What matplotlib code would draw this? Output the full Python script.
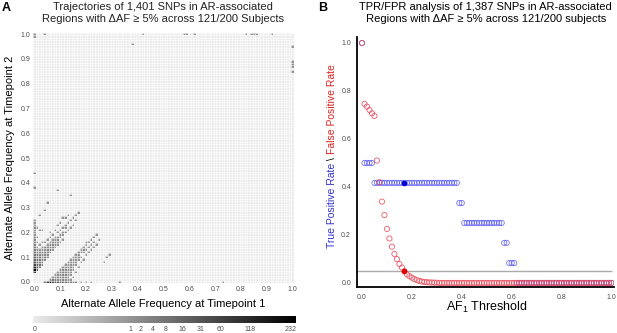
import numpy as np
import matplotlib
matplotlib.use("Agg")
import matplotlib.pyplot as plt
from matplotlib.colors import LinearSegmentedColormap

plt.rcParams['font.family'] = ['Liberation Sans', 'DejaVu Sans']
plt.rcParams['mathtext.default'] = 'regular'

# ---- panel A: SNP counts per cell, AF in hundredths (x = timepoint 1, y = timepoint 2)
col_ids = [0, 1, 2, 3, 4, 5, 6, 7, 8, 9, 10, 11, 12, 13, 14, 15, 16, 17, 18, 19, 20,
           21, 22, 23, 24, 25, 27, 28, 29, 33, 38, 42, 58, 59, 62, 73, 82, 84, 85, 86,
           92, 100]
col_y = [
    [4, 5, 6, 7, 8, 9, 10, 11, 12, 13, 14, 15, 16, 17, 18, 19, 20, 21, 22, 23, 24, 25, 38, 44, 99, 100],
    [5, 6, 7, 8, 9, 10, 11, 12, 13, 14, 16, 18, 22],
    [6, 7, 8, 9, 10, 11, 12, 13, 15, 21, 27],
    [7, 8, 9, 10, 11, 12, 13, 14, 16, 21],
    [0, 9, 10, 11, 12, 13, 14, 16, 29, 100],
    [0, 10, 11, 12, 13, 14, 15, 17, 32],
    [0, 1, 12, 13, 14, 15, 16, 18, 20],
    [0, 1, 2, 13, 14, 15, 16, 17, 19],
    [0, 1, 2, 3, 14, 15, 16, 17, 18, 21],
    [0, 1, 2, 3, 4, 15, 16, 17, 18, 20, 23, 37],
    [0, 1, 2, 3, 4, 5, 16, 18, 19, 21, 24],
    [0, 1, 2, 3, 4, 5, 6, 17, 19, 20, 22, 26],
    [0, 1, 2, 3, 4, 5, 6, 7, 20, 22, 23, 26],
    [0, 1, 2, 3, 4, 5, 6, 7, 8, 21, 24, 27],
    [0, 1, 3, 4, 5, 6, 7, 8, 9, 22, 25, 35],
    [0, 2, 5, 6, 7, 8, 9, 10, 23, 26],
    [0, 4, 7, 8, 9, 10, 11, 25, 27],
    [6, 9, 10, 11, 12, 28],
    [0, 8, 10, 12, 13],
    [9, 12, 13, 14],
    [0, 11, 13, 15, 16],
    [12, 14, 16],
    [0, 13, 15, 17],
    [14, 16, 18],
    [15, 19],
    [17],
    [8], [10], [11], [0], [96], [100], [100], [100], [100], [0], [100], [100], [100], [100],
    [100],
    [95, 89, 88, 87, 85],
]
col_n = [
    [60, 232, 118, 60, 31, 16, 16, 8, 8, 4, 4, 4, 2, 2, 2, 1, 1, 1, 2, 1, 1, 1, 1, 1, 1, 1],
    [16, 31, 16, 8, 8, 4, 4, 2, 2, 1, 1, 1, 1],
    [8, 8, 4, 4, 4, 2, 2, 1, 1, 1, 1],
    [4, 4, 2, 2, 2, 2, 1, 1, 1, 1],
    [4, 2, 2, 2, 2, 1, 2, 1, 1, 1],
    [60, 1, 2, 2, 2, 2, 1, 1, 1],
    [118, 2, 1, 2, 2, 2, 1, 1, 1],
    [31, 4, 1, 1, 2, 2, 2, 1, 1],
    [31, 4, 2, 1, 1, 2, 2, 2, 1, 1],
    [16, 2, 2, 2, 1, 1, 1, 2, 1, 1, 1, 1],
    [16, 2, 2, 2, 2, 1, 1, 1, 2, 1, 1],
    [8, 2, 2, 2, 2, 2, 1, 1, 1, 1, 1, 1],
    [8, 1, 2, 2, 2, 2, 1, 1, 1, 1, 1, 1],
    [4, 1, 1, 1, 2, 2, 2, 1, 1, 1, 1, 1],
    [4, 1, 1, 1, 1, 2, 1, 1, 1, 1, 1, 1],
    [2, 1, 1, 1, 1, 1, 1, 1, 1, 1],
    [2, 1, 1, 1, 1, 1, 1, 1, 1],
    [1, 1, 1, 1, 1, 1],
    [1, 1, 1, 1, 1],
    [1, 1, 1, 1],
    [1, 1, 1, 1, 1],
    [1, 1, 1],
    [1, 1, 1, 1],
    [1, 1, 1],
    [1, 1],
    [1],
    [1], [1], [1], [1], [1], [1], [1], [1], [1], [1], [1], [1], [1], [1],
    [1],
    [1, 1, 1, 1, 1],
]
cbar_ticks = [0, 1, 2, 4, 8, 16, 31, 60, 118, 232]
cbar_pos = [0.0, 0.371, 0.414, 0.461, 0.512, 0.574, 0.645, 0.723, 0.84, 1.0]  # colour scale

# ---- panel B: TPR / FPR per AF1 threshold
thresholds = np.linspace(0, 1, 101)
tpr = ([1.0] + [0.5] * 4 + [0.417] * 34 + [0.333] * 2 + [0.25] * 16
       + [0.167] * 2 + [0.083] * 3 + [0.0] * 39)
fpr = [1.0, 0.746, 0.735, 0.721, 0.707, 0.696, 0.51, 0.42, 0.339, 0.283,
       0.225, 0.185, 0.151, 0.121, 0.099, 0.079, 0.064, 0.049, 0.036, 0.028,
       0.022, 0.016, 0.012, 0.008, 0.006, 0.004, 0.003, 0.002, 0.002, 0.001,
       0.001] + [0.0] * 70
chosen = 17          # threshold 0.17 highlighted
fpr_cut = 0.05

fig = plt.figure(figsize=(6.17, 3.33), dpi=100)
cmap = LinearSegmentedColormap.from_list("grey", ["#ebebeb", "#000000"])

# ---------------- panel A
axA = fig.add_axes([33 / 617, 1 - 283 / 333, 261 / 617, 250 / 333])
Z = np.zeros((101, 101))
for x, ys, ns in zip(col_ids, col_y, col_n):
    for y, n in zip(ys, ns):
        Z[y, x] = n
Zc = np.interp(Z, cbar_ticks, cbar_pos)
edges = (np.arange(102) - 0.5) / 100
axA.pcolormesh(edges, edges, Zc, cmap=cmap, vmin=0, vmax=1)
axA.vlines(edges, -0.005, 1.005, color="white", lw=0.4)
axA.hlines(edges, -0.005, 1.005, color="white", lw=0.4)
axA.set_xlim(-0.005, 1.005)
axA.set_ylim(-0.005, 1.005)
axA.set_xticks(np.arange(0, 1.01, 0.1))
axA.set_yticks(np.arange(0, 1.01, 0.1))
axA.xaxis.set_major_formatter(lambda v, p: f"{v:.1f}")
axA.yaxis.set_major_formatter(lambda v, p: f"{v:.1f}")
axA.tick_params(length=0, labelsize=5, labelcolor="#4d4d4d", pad=2)
for s in axA.spines.values():
    s.set_visible(False)

# colour bar
cax = fig.add_axes([33 / 617, 1 - 323 / 333, 263 / 617, 7 / 333])
cax.imshow(np.linspace(0, 1, 256)[None, :], cmap=cmap, aspect="auto",
           extent=[-2 / 256, 1 + 5 / 256, 0, 1])
cax.set_xlim(-2 / 256, 1 + 5 / 256)
cax.set_xticks(cbar_pos)
cax.set_xticklabels([str(t) for t in cbar_ticks])
cax.set_yticks([])
cax.tick_params(length=0, labelsize=5, labelcolor="#4d4d4d", pad=2)
for s in cax.spines.values():
    s.set_visible(False)

fig.text(163 / 617, 1 - 2 / 333,
         "Trajectories of 1,401 SNPs in AR-associated\nRegions with \u0394AF \u2265 5% across 121/200 Subjects",
         ha="center", va="top", fontsize=8, linespacing=1.25, color="#222222")
fig.text(163 / 617, 1 - 304 / 333, "Alternate Allele Frequency at Timepoint 1",
         ha="center", va="center", fontsize=8)
fig.text(10 / 617, 1 - 158 / 333, "Alternate Allele Frequency at Timepoint 2",
         ha="center", va="center", rotation=90, fontsize=8)
fig.text(2 / 617, 1 - 2 / 333, "A", fontsize=9, weight="bold", va="top")

# ---------------- panel B
axB = fig.add_axes([357 / 617, 1 - 287 / 333, 257 / 617, 250 / 333])
axB.hlines(fpr_cut, -0.02, 1.0, color="#aaaaaa", lw=1, zorder=1)
axB.scatter(thresholds, tpr, s=14, facecolors="none", edgecolors="#5050ee",
            linewidths=0.6, alpha=0.8, zorder=2)
axB.scatter(thresholds, fpr, s=14, facecolors="none", edgecolors="#e84a5a",
            linewidths=0.6, alpha=0.9, zorder=3)
axB.scatter([thresholds[chosen]], [tpr[chosen]], s=9, color="#0000cc", zorder=4)
axB.scatter([thresholds[chosen]], [fpr[chosen]], s=9, color="#dd0000", zorder=4)
axB.set_xlim(-0.02, 1.01)
axB.set_ylim(-0.017, 1.025)
axB.set_xticks(np.arange(0, 1.01, 0.2))
axB.set_yticks(np.arange(0, 1.01, 0.2))
axB.xaxis.set_major_formatter(lambda v, p: f"{v:.1f}")
axB.yaxis.set_major_formatter(lambda v, p: f"{v:.1f}")
axB.tick_params(length=0, labelsize=5, labelcolor="#4d4d4d")
axB.tick_params(axis="x", pad=5)
axB.tick_params(axis="y", pad=4.3)
for side in ["top", "right"]:
    axB.spines[side].set_visible(False)
for side in ["left", "bottom"]:
    axB.spines[side].set_linewidth(1.3)

fig.text(485 / 617, 1 - 2 / 333,
         "TPR/FPR analysis of 1,387 SNPs in AR-associated\n Regions with \u0394AF \u2265 5% across 121/200 subjects",
         ha="center", va="top", fontsize=8, linespacing=1.25)
fig.text(487 / 617, 1 - 307 / 333, "AF$_1$ Threshold", ha="center", va="center", fontsize=9)
fig.text(318 / 617, 1 - 2 / 333, "B", fontsize=9, weight="bold", va="top")

t = axB.text(327 / 617, 1 - 248 / 333, "True Positive Rate", transform=fig.transFigure,
             rotation=90, ha="left", va="bottom", fontsize=7.5, color="#3333cc")
t = axB.annotate(" \\ ", xycoords=t, xy=(0, 1), va="bottom", rotation=90,
                 fontsize=7.5, color="black")
t = axB.annotate("False Positive Rate", xycoords=t, xy=(0, 1), va="bottom", rotation=90,
                 fontsize=7.5, color="#e02020")

fig.savefig("out.png", dpi=100)
